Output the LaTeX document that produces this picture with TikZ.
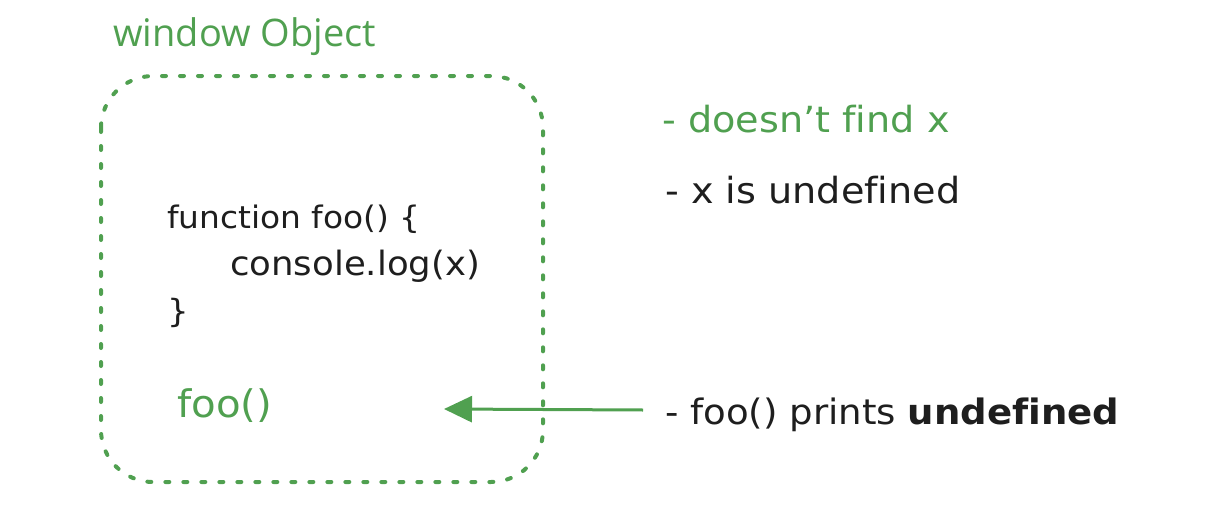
\documentclass[tikz,border=0pt]{standalone}
\usepackage{fontspec}
\setmainfont{DejaVu Sans}[Ligatures=NoCommon, FakeStretch=1.06]
\newfontfamily\titlefont{Open Sans}
\usetikzlibrary{arrows.meta}
\definecolor{grn}{RGB}{80,160,80}
\definecolor{ink}{RGB}{30,30,30}
\tikzset{
  lbl/.style={anchor=base west, inner sep=0pt, font=\fontsize{36}{42}\selectfont, text=ink},
  glbl/.style={lbl, text=grn},
  code/.style={lbl, font=\fontsize{32}{38}\selectfont},
  frame/.style={draw=grn, line width=4pt, line cap=round, dash pattern=on 4pt off 14pt, rounded corners=52pt},
  conn/.style={draw=grn, line width=3pt, -{Triangle[length=28pt,width=26pt]}}
}
\begin{document}
\begin{tikzpicture}[x=1pt,y=-1pt]
\useasboundingbox (0,0) rectangle (1216,530);
\node[glbl, font=\titlefont\fontsize{38}{44}\selectfont] (title) at (113,46) {window Object};
\draw[frame] (101,76) rectangle (543,482);
\node[code, font=\fontsize{31}{36}\selectfont] (l1) at (167,228) {function foo() \{};
\node[code, font=\fontsize{33.5}{38}\selectfont] (l2) at (230,275) {console.log(x)};
\node[code] (l3) at (167,322) {\}};
\node[glbl, font=\fontsize{38}{44}\selectfont] (call) at (177,417) {foo()};
\node[glbl] (t1) at (662,132) {- doesn't find x};
\node[lbl] (t2) at (665,203) {- x is undefined};
\node[lbl, font=\fontsize{35}{42}\selectfont] (t3) at (665,424) {- foo() prints \textbf{undefined}};
\coordinate (tip) at (444,409);
\draw[conn] (t3.west |- 0,410) ++(-22,0) coordinate (start) -- (tip);
\end{tikzpicture}
\end{document}
